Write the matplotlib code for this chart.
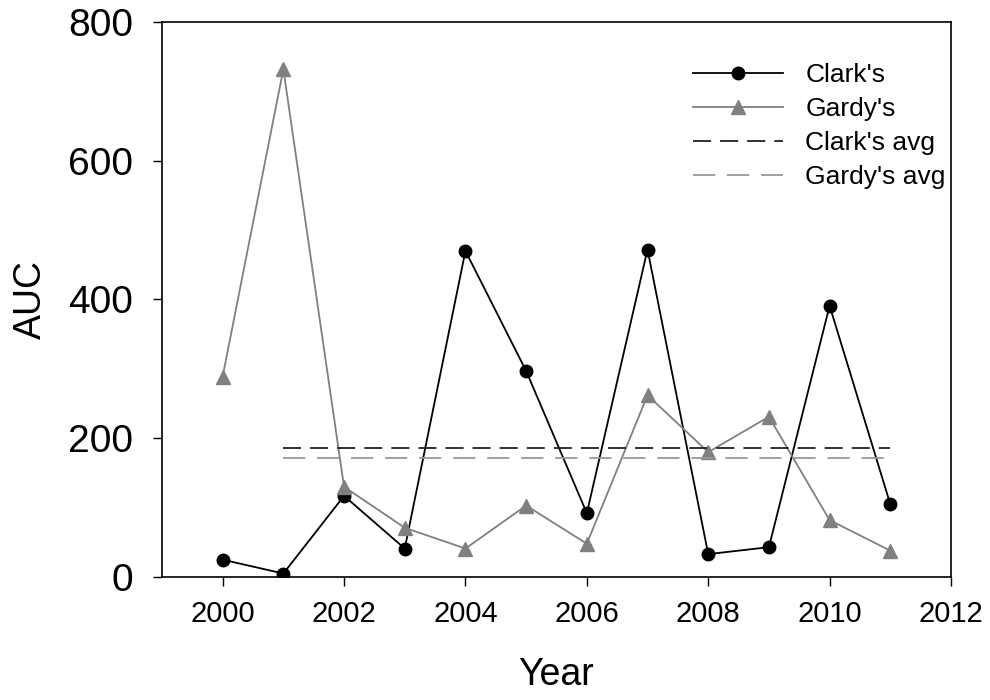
import matplotlib
matplotlib.use("Agg")
import matplotlib.pyplot as plt

plt.rcParams['font.family'] = ['Liberation Sans', 'DejaVu Sans']
plt.rcParams['lines.scale_dashes'] = False

years = [2000, 2001, 2002, 2003, 2004, 2005, 2006, 2007, 2008, 2009, 2010, 2011]
clark = [25, 5, 117, 41, 470, 297, 92, 472, 33, 43, 391, 105]
gardy = [289, 732, 130, 71, 41, 103, 48, 262, 180, 231, 82, 38]
clark_avg = 186
gardy_avg = 172
avg_span = [2001, 2011]

fig = plt.figure(figsize=(9.9, 7.0), dpi=100)
ax = fig.add_axes([0.1636, 0.1757, 0.797, 0.7929])

ax.plot(years, clark, color='black', lw=1.3, marker='o', ms=9,
        label="Clark's")
ax.plot(years, gardy, color='#808080', lw=1.3, marker='^', ms=10,
        label="Gardy's")
ax.plot(avg_span, [clark_avg, clark_avg], color='#222222', lw=1.3,
        dashes=(13, 6.5), label="Clark's avg")
ax.plot(avg_span, [gardy_avg, gardy_avg], color='#999999', lw=1.3,
        dashes=(16, 8.5), label="Gardy's avg")

ax.set_xlim(1999, 2012)
ax.set_ylim(0, 800)
ax.set_xticks(range(2000, 2013, 2))
ax.set_yticks(range(0, 801, 200))
ax.tick_params(axis='x', direction='out', length=6.5, width=1, labelsize=21, pad=10)
ax.tick_params(axis='y', direction='out', length=6.5, width=1, labelsize=28, pad=14)
for s in ax.spines.values():
    s.set_linewidth(1.2)

ax.set_xlabel('Year', fontsize=27, labelpad=21)
ax.set_ylabel('AUC', fontsize=27, labelpad=14)

ax.legend(loc='upper left', bbox_to_anchor=(0.66, 0.945), frameon=False,
          fontsize=19, handlelength=3.4, handletextpad=0.85, labelspacing=0.38,
          borderaxespad=0)

fig.savefig('out.png', dpi=100)
